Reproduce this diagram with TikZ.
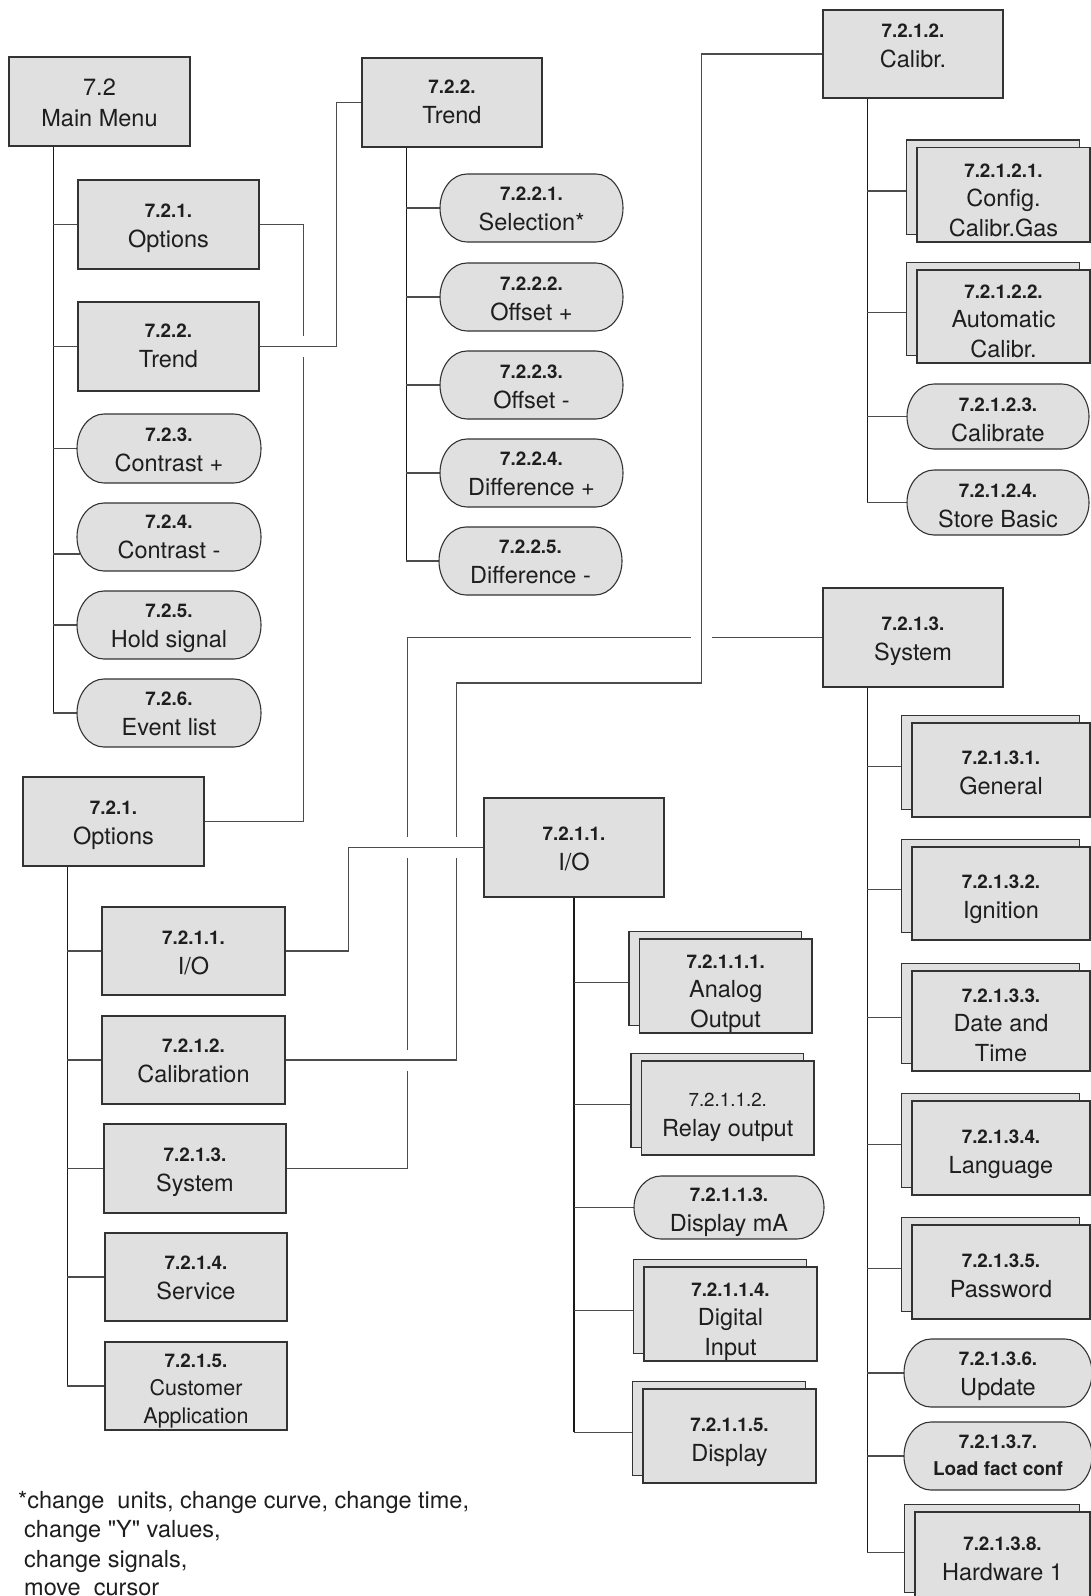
\documentclass[tikz,border=0pt]{standalone}
\usepackage{fontspec}
\setmainfont{TeX Gyre Heros}
\newfontfamily\qfnt{TeX Gyre Heros}
\usetikzlibrary{fit,calc}
\definecolor{boxfill}{RGB}{224,224,224}
\definecolor{txt}{RGB}{30,30,30}
\pgfdeclarelayer{bg}
\pgfsetlayers{bg,main}
\newcommand\numb[1]{{\fontsize{18.8}{30}\selectfont\bfseries #1}}
\newcommand\numr[1]{{\fontsize{18.8}{30}\selectfont #1}}
\newcommand\stT{\rule{0pt}{17pt}}
\newcommand\stB{\rule[-6pt]{0pt}{6pt}}
\tikzset{
  boxs/.style={draw=black!80, line width=1.1pt, fill=boxfill, inner sep=0pt, rectangle},
  pillst/.style={draw=black!80, line width=1.1pt, fill=boxfill},
  lbl/.style={align=center, inner sep=0pt, text=txt, font=\fontsize{23.5}{30}\selectfont},
  lblA/.style={lbl, font=\fontsize{23.5}{29.5}\selectfont},
  lblM/.style={lbl, font=\fontsize{23.5}{31}\selectfont},
  lblC/.style={lbl, font=\fontsize{21.5}{28}\selectfont},
  lblL/.style={lbl, font=\fontsize{19}{27}\selectfont},
  trunk/.style={line width=1.6pt, draw=black!90},
  branch/.style={line width=1.1pt, draw=black!70},
  link/.style={line width=1.1pt, draw=black!70},
  erase/.style={preaction={draw=white, line width=21pt}},
  foot/.style={anchor=base west, inner sep=0pt, text=txt, font=\qfnt\fontsize{23.5}{29.5}\selectfont}
}
% name, x1, y1, x2, y2, first baseline, text style, text
\newcommand\rbox[8]{%
  \node[boxs, fit={({#2},{#3}) ({#4},{#5})}] (#1) {};
  \coordinate (#1J) at (#1.west);
  \node[#7, anchor=north] (#1T) at ({(#2+#4)/2},{#6-17}) {\stT#8\stB};}
\newcommand\pbox[8]{%
  \node[inner sep=0pt, fit={({#2},{#3}) ({#4},{#5})}] (#1) {};
  \pgfmathsetmacro\pry{(#5-#3)/2}
  \path[pillst] ({#2+27},{#3}) -- ({#4-27},{#3})
     arc[start angle=90, end angle=-90, x radius=27pt, y radius=\pry pt]
     -- ({#2+27},{#5})
     arc[start angle=270, end angle=90, x radius=27pt, y radius=\pry pt] -- cycle;
  \coordinate (#1J) at (#1.west);
  \node[#7, anchor=north] (#1T) at ({(#2+#4)/2},{#6-17}) {\stT#8\stB};}
\newcommand\kbox[8]{%
  \node[boxs, fit={({#2-10.5},{#3-7.5}) ({#4-10.5},{#5-7.5})}] (#1B) {};
  \node[boxs, fit={({#2},{#3}) ({#4},{#5})}] (#1) {};
  \coordinate (#1J) at ($(#1B.west)+(0,3.75)$);
  \node[#7, anchor=north] (#1T) at ({(#2+#4)/2},{#6-17}) {\stT#8\stB};}
\begin{document}
\begin{tikzpicture}[x=1pt, y=-1pt]
\useasboundingbox (0,0) rectangle (1091,1596);

% ---- left column
\rbox{mm}{9}{57}{190}{146}{95}{lblM}{7.2\\Main Menu}
\rbox{oa}{78}{180}{259}{269}{217}{lbl}{\numb{7.2.1.}\\Options}
\rbox{ta}{78}{302}{259}{391}{337}{lbl}{\numb{7.2.2.}\\Trend}
\pbox{ca}{77}{414}{261}{483}{441}{lbl}{\numb{7.2.3.}\\Contrast +}
\pbox{cm}{77}{503}{261}{571}{528}{lbl}{\numb{7.2.4.}\\Contrast -}
\pbox{hs}{77}{591}{261}{659}{617}{lbl}{\numb{7.2.5.}\\Hold signal}
\pbox{ev}{77}{679}{261}{747}{705}{lbl}{\numb{7.2.6.}\\Event list}
\coordinate (cmJ) at ($(cm.west)+(3,17)$);

% ---- trend column
\rbox{tb}{362}{58}{542}{147}{93}{lbl}{\numb{7.2.2.}\\Trend}
\pbox{sel}{440}{174}{623}{242}{200}{lbl}{\numb{7.2.2.1.}\\Selection*}
\pbox{ofa}{440}{263}{623}{331}{290}{lbl}{\numb{7.2.2.2.}\\Offset +}
\pbox{ofb}{440}{351}{623}{419}{378}{lbl}{\numb{7.2.2.3.}\\Offset -}
\pbox{dfa}{440}{439}{623}{507}{465}{lbl}{\numb{7.2.2.4.}\\Difference +}
\pbox{dfb}{439}{527}{622}{595}{553}{lbl}{\numb{7.2.2.5.}\\Difference -}

% ---- options (lower left)
\rbox{ob}{23}{777}{204}{866}{814}{lbl}{\numb{7.2.1.}\\Options}
\rbox{ioa}{102}{907}{285}{995}{944}{lbl}{\numb{7.2.1.1.}\\I/O}
\rbox{cla}{102}{1016}{285}{1104}{1052}{lbl}{\numb{7.2.1.2.}\\Calibration}
\rbox{sya}{104}{1124}{286}{1213}{1161}{lbl}{\numb{7.2.1.3.}\\System}
\rbox{sv}{105}{1233}{287}{1321}{1269}{lbl}{\numb{7.2.1.4.}\\Service}
\rbox{cu}{105}{1342}{287}{1430}{1367}{lblC}{\numb{7.2.1.5.}\\Customer\\Application}

% ---- I/O column
\rbox{iob}{484}{798}{664}{897}{840}{lbl}{\numb{7.2.1.1.}\\I/O}
\kbox{ao}{639.5}{939}{812}{1033}{968}{lblA}{\numb{7.2.1.1.1.}\\Analog\\Output}
\kbox{ro}{641.5}{1061}{814}{1155}{1106}{lbl}{\numr{7.2.1.1.2.}\\Relay output}
\pbox{dm}{634}{1176}{824}{1239}{1201.5}{lbl}{\numb{7.2.1.1.3.}\\Display mA}
\kbox{di}{644}{1267}{817}{1361}{1296}{lblA}{\numb{7.2.1.1.4.}\\Digital\\Input}
\kbox{ds}{643}{1389}{816}{1483}{1431}{lbl}{\numb{7.2.1.1.5.}\\Display}

% ---- calibration column
\rbox{cb}{823}{10}{1003}{98}{37.5}{lbl}{\numb{7.2.1.2.}\\Calibr.}
\kbox{cg}{917}{147.5}{1090}{242}{177}{lblA}{\numb{7.2.1.2.1.}\\Config.\\Calibr.Gas}
\kbox{ac}{917}{270}{1090}{363}{298}{lblA}{\numb{7.2.1.2.2.}\\Automatic\\Calibr.}
\pbox{ct}{907}{384}{1089}{449}{411}{lbl}{\numb{7.2.1.2.3.}\\Calibrate}
\pbox{sb}{907}{470}{1089}{535}{497}{lbl}{\numb{7.2.1.2.4.}\\Store Basic}

% ---- system column
\rbox{syb}{823}{588}{1003}{687}{630}{lbl}{\numb{7.2.1.3.}\\System}
\kbox{ge}{912}{723}{1090}{817}{764}{lbl}{\numb{7.2.1.3.1.}\\General}
\kbox{ig}{912}{847}{1090}{940}{888}{lbl}{\numb{7.2.1.3.2.}\\Ignition}
\kbox{da}{912}{971}{1090}{1071}{1002}{lblA}{\numb{7.2.1.3.3.}\\Date and\\Time}
\kbox{la}{912}{1101}{1090}{1195}{1143}{lbl}{\numb{7.2.1.3.4.}\\Language}
\kbox{pw}{912}{1225}{1090}{1319}{1267}{lbl}{\numb{7.2.1.3.5.}\\Password}
\pbox{up}{904}{1339}{1092}{1407}{1365}{lbl}{\numb{7.2.1.3.6.}\\Update}
\pbox{lf}{904}{1422}{1092}{1490}{1448}{lblL}{\numb{7.2.1.3.7.}\\\textbf{Load fact conf}}
\kbox{hw}{915}{1512}{1090}{1600}{1550}{lbl}{\numb{7.2.1.3.8.}\\Hardware 1}

% ---- footnote
\node[foot] (fna) at (18,1508) {*change\ \ units, change curve, change time,};
\node[foot] (fnb) at (24,1537.5) {change "Y" values,};
\node[foot] (fnc) at (24,1567) {change signals,};
\node[foot] (fnd) at (24,1595) {move\ \ cursor};

\begin{pgfonlayer}{bg}
  \fill[white] (0,0) rectangle (1091,1596);
  % trunks and branches
  \coordinate (mmT) at ($(mm.south west)+(45,0)$);
  \draw[trunk] (mmT) -- (mmT |- evJ);
  \foreach \nn in {oa,ta,ca,cm,hs,ev} \draw[branch] (mmT |- \nn J) -- (\nn J);

  \coordinate (tbT) at ($(tb.south west)+(45,0)$);
  \draw[trunk] (tbT) -- (tbT |- dfbJ);
  \foreach \nn in {sel,ofa,ofb,dfa,dfb} \draw[branch] (tbT |- \nn J) -- (\nn J);

  \coordinate (obT) at ($(ob.south west)+(45,0)$);
  \draw[trunk] (obT) -- (obT |- cuJ);
  \foreach \nn in {ioa,cla,sya,sv,cu} \draw[branch] (obT |- \nn J) -- (\nn J);

  \coordinate (iobT) at (iob.south);
  \draw[trunk] (iobT) -- (iobT |- dsJ);
  \foreach \nn in {ao,ro,dm,di,ds} \draw[branch] (iobT |- \nn J) -- (\nn J);

  \coordinate (cbT) at ($(cb.south west)+(45,0)$);
  \draw[trunk] (cbT) -- (cbT |- sbJ);
  \foreach \nn in {cg,ac,ct,sb} \draw[branch] (cbT |- \nn J) -- (\nn J);

  \coordinate (sybT) at ($(syb.south west)+(45,0)$);
  \draw[trunk] (sybT) -- (sybT |- hwJ);
  \foreach \nn in {ge,ig,da,la,pw,up,lf,hw} \draw[branch] (sybT |- \nn J) -- (\nn J);

  % cross links (later ones cut gaps into earlier ones)
  \draw[link] (oa.east) -- ++(44,0) |- (ob.east);
  \draw[link, erase] (ta.east) -- ++(77,0) |- (tb.west);
  \draw[link] (sya.east) -| ($(syb.west)+(-415,0)$) -- (syb.west);
  \draw[link, erase] (cla.east) -| ($(cb.west)+(-366,629)$) -- ($(cb.west)+(-121,629)$) |- (cb.west);
  \draw[link, erase] (ioa.east) -- ++(63,0) |- (iob.west);
\end{pgfonlayer}
\end{tikzpicture}
\end{document}
